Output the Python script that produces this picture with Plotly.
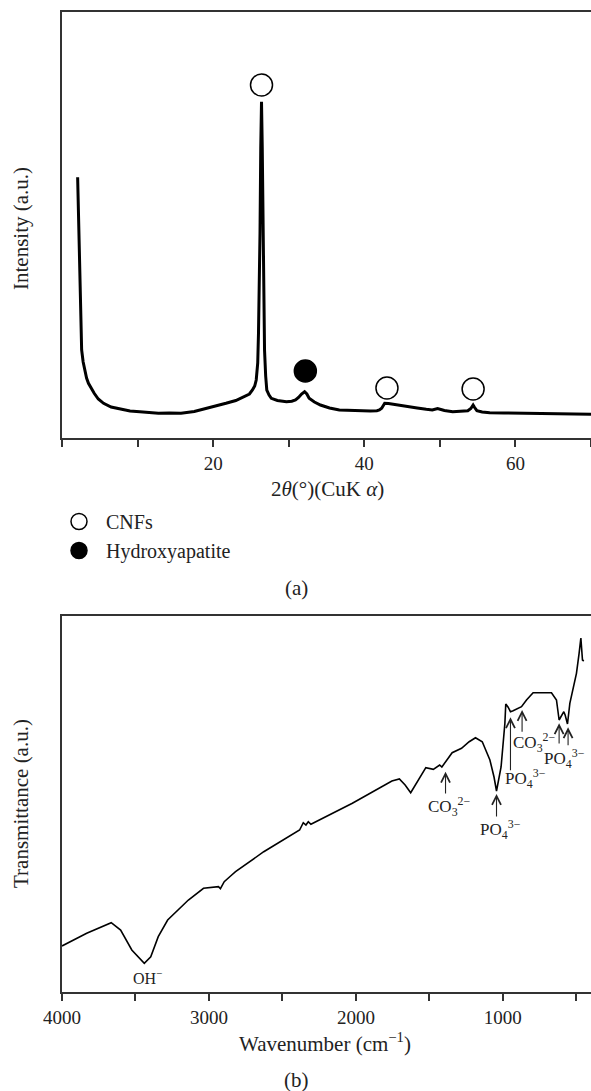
import plotly.graph_objects as go

# ---------------- Panel (a): XRD ----------------
xrd_2theta = [2.07, 2.15, 2.27, 2.4, 2.6, 2.8, 3.0, 3.25, 3.5, 3.9, 4.26, 4.8, 5.5, 6.5, 7.76, 9.0,
              10.3, 11.5, 12.75, 14.2, 15.75, 17.5, 19.2, 20.5, 21.7, 23.0, 24.2, 24.8, 25.2, 25.5,
              25.7, 25.9, 26.0, 26.1, 26.2, 26.3, 26.4, 26.5, 26.6, 26.7, 26.8, 26.95, 27.1, 27.4,
              27.7, 28.5, 29.7, 30.4, 30.9, 31.3, 31.7, 32.1, 32.4, 32.7, 33.4, 34.2, 35.4, 36.7,
              38.2, 39.7, 40.8, 41.67, 42.0, 42.3, 42.7, 43.2, 43.7, 44.6, 45.7, 47.0, 48.2, 49.0,
              49.7, 50.6, 51.7, 52.8, 53.7, 54.1, 54.4, 54.6, 54.9, 55.6, 56.6, 58.5, 60.0, 61.6,
              63.5, 65.0, 66.6, 68.3, 70.0]
xrd_intensity = [260.7, 235.0, 204.7, 138.0, 88.0, 76.0, 68.0, 60.0, 54.7, 49.0, 44.7, 39.0, 34.7, 31.0,
                 28.7, 27.0, 26.3, 25.5, 24.7, 25.0, 24.7, 26.5, 29.7, 32.0, 34.7, 37.5, 41.3, 44.0,
                 48.0, 52.0, 58.0, 75.0, 104.7, 150.0, 204.7, 290.0, 336.3, 290.0, 204.7, 140.0,
                 88.0, 62.0, 48.0, 43.0, 39.7, 37.5, 36.3, 36.8, 38.0, 40.5, 44.0, 46.3, 44.0, 39.7,
                 36.0, 33.0, 30.0, 28.0, 27.5, 27.3, 27.0, 27.3, 28.0, 29.7, 34.7, 34.5, 34.0, 33.0,
                 32.0, 30.0, 28.7, 28.0, 29.5, 27.5, 26.3, 26.8, 27.3, 29.5, 33.0, 30.5, 27.3, 26.0,
                 25.3, 25.0, 24.8, 24.7, 24.2, 24.0, 23.7, 23.7, 23.7]

cnf_x = [26.4, 43.0, 54.4]
cnf_y = [353, 50, 49]
ha_x = [32.2]
ha_y = [67]

xrd_ticks = [0, 10, 20, 30, 40, 50, 60, 70]
xrd_ticktext = ["", "", "20", "", "40", "", "60", ""]

# ---------------- Panel (b): FTIR ----------------
ir_wn = [4000, 3832, 3665, 3601, 3525, 3440, 3396, 3345, 3281, 3140, 3037, 2935, 2922, 2896,
         2845, 2819, 2627, 2383, 2358, 2340, 2324, 2306, 2024, 1858, 1755, 1704, 1665, 1627,
         1575, 1524, 1473, 1447, 1430, 1415, 1383, 1345, 1281, 1229, 1186, 1140, 1088, 1060,
         1043, 1012, 986, 980, 965, 948, 930, 873, 839, 794, 669, 635, 617, 597, 585, 576,
         560, 544, 499, 481, 469, 458, 449]
ir_trans = [46, 58.7, 69.3, 62, 42, 28.7, 35.3, 55.3, 72, 92, 103.7, 105.3, 103.3, 110.3,
            117, 120.3, 140.3, 162, 169.3, 167, 170.3, 167.7, 188.7, 202, 211, 213, 207, 199.3,
            212, 224.3, 222.7, 225.3, 227, 225, 232, 239.3, 243.7, 250.3, 254.3, 250.3, 232, 215,
            201, 225, 268.7, 288, 285, 280.3, 281.3, 285.3, 292, 299.3, 299.3, 292, 272, 277, 280.3, 277,
            268, 288.7, 318.7, 338.7, 354, 332, 331]

ir_ticks = [4000, 3500, 3000, 2500, 2000, 1500, 1000, 500]
ir_ticktext = ["4000", "", "3000", "", "2000", "", "1000", ""]

# label: (text, x, y, size)
ir_labels = [
    ("OH<sup>−</sup>", 3421, 14.7, 16),
    ("CO<sub>3</sub><sup>2−</sup>", 1361, 185.3, 17),
    ("PO<sub>4</sub><sup>3−</sup>", 1017, 162, 17),
    ("PO<sub>4</sub><sup>3−</sup>", 844, 213.7, 17),
    ("CO<sub>3</sub><sup>2−</sup>", 782, 249, 17),
    ("PO<sub>4</sub><sup>3−</sup>", 578, 233.7, 17),
]
# arrows: (x, tip y, tail y)
ir_arrows = [
    (1390, 220.3, 197),
    (1043, 198, 174),
    (948, 274.7, 220.3),
    (869, 282, 258.7),
    (617, 268.7, 247),
    (556, 264.7, 245.3),
]

FONT = "Liberation Serif"
AX = "#333333"
W, H = 591, 1091
ML = 62

fig = go.Figure()
fig.add_trace(go.Scatter(x=xrd_2theta, y=xrd_intensity, mode="lines",
                         line=dict(color="black", width=3), showlegend=False,
                         xaxis="x", yaxis="y"))
fig.add_trace(go.Scatter(x=cnf_x, y=cnf_y, mode="markers", name="CNFs",
                         legendgroup="a",
                         marker=dict(symbol="circle", size=22, color="white",
                                     line=dict(color="black", width=1.5)),
                         xaxis="x", yaxis="y"))
fig.add_trace(go.Scatter(x=ha_x, y=ha_y, mode="markers", name="Hydroxyapatite",
                         legendgroup="b",
                         marker=dict(symbol="circle", size=22, color="black",
                                     line=dict(color="black", width=1.5)),
                         xaxis="x", yaxis="y"))
fig.add_trace(go.Scatter(x=ir_wn, y=ir_trans, mode="lines",
                         line=dict(color="black", width=1.6), showlegend=False,
                         xaxis="x2", yaxis="y2"))

def ydom(top_px, bot_px):
    return [(H - bot_px) / H, (H - top_px) / H]

def px_x(xpx):
    return (xpx - ML) / (W - ML)

axis_common = dict(showline=True, linecolor=AX, linewidth=1.5, showgrid=False, zeroline=False,
                   ticks="outside", ticklen=7, tickwidth=1.5, tickcolor=AX,
                   tickfont=dict(family=FONT, size=19, color="#222"))

fig.update_layout(
    width=W, height=H, margin=dict(l=ML, r=0, t=0, b=0),
    paper_bgcolor="white", plot_bgcolor="white",
    font=dict(family=FONT, size=20, color="#222"),
    xaxis=dict(domain=[0, 1], range=[0, 70], tickvals=xrd_ticks, ticktext=xrd_ticktext,
               mirror=True, anchor="y", **axis_common),
    yaxis=dict(domain=ydom(12, 438), range=[0, 426], showline=True, linecolor=AX, linewidth=1.5,
               showgrid=False, zeroline=False, showticklabels=False, ticks="", anchor="x"),
    xaxis2=dict(domain=[0, 1], range=[4000, 400], tickvals=ir_ticks, ticktext=ir_ticktext,
                mirror=True, anchor="y2", **axis_common),
    yaxis2=dict(domain=ydom(616, 992), range=[0, 376], showline=True, linecolor=AX, linewidth=1.5,
                showgrid=False, zeroline=False, showticklabels=False, ticks="", anchor="x2"),
    legend=dict(x=px_x(52), y=(H - 502) / H, xanchor="left", yanchor="top",
                bgcolor="rgba(0,0,0,0)", itemwidth=44, tracegroupgap=0,
                font=dict(family=FONT, size=20, color="#222")),
)

ann = []
def paper_text(text, xpx, ypx, size=21, angle=0):
    ann.append(dict(text=text, x=px_x(xpx), y=(H - ypx) / H, xref="paper", yref="paper",
                    showarrow=False, textangle=angle, xanchor="center", yanchor="middle",
                    font=dict(family=FONT, size=size, color="#222")))

paper_text("Intensity (a.u.)", 21, 229, angle=-90)
paper_text("Transmittance (a.u.)", 21, 804, angle=-90)
paper_text("2<i>θ</i>(°)(CuK <i>α</i>)", 327, 489)
paper_text("(a)", 296, 588)
paper_text("Wavenumber (cm<sup>−1</sup>)", 325, 1042)
paper_text("(b)", 296, 1080)

for t, x, y, s in ir_labels:
    ann.append(dict(text=t, x=x, y=y, xref="x2", yref="y2", showarrow=False,
                    xanchor="center", yanchor="middle",
                    font=dict(family=FONT, size=s, color="#222")))
for x, tip, tail in ir_arrows:
    ann.append(dict(text="", x=x, y=tip, ax=x, ay=tail, xref="x2", yref="y2",
                    axref="x2", ayref="y2", showarrow=True, arrowhead=5, arrowsize=1.6,
                    arrowwidth=1.1, arrowcolor="#222"))

fig.update_layout(annotations=ann)
fig.write_html("out.html", config={"displayModeBar": False},
               post_script="document.body.style.margin='0';")
